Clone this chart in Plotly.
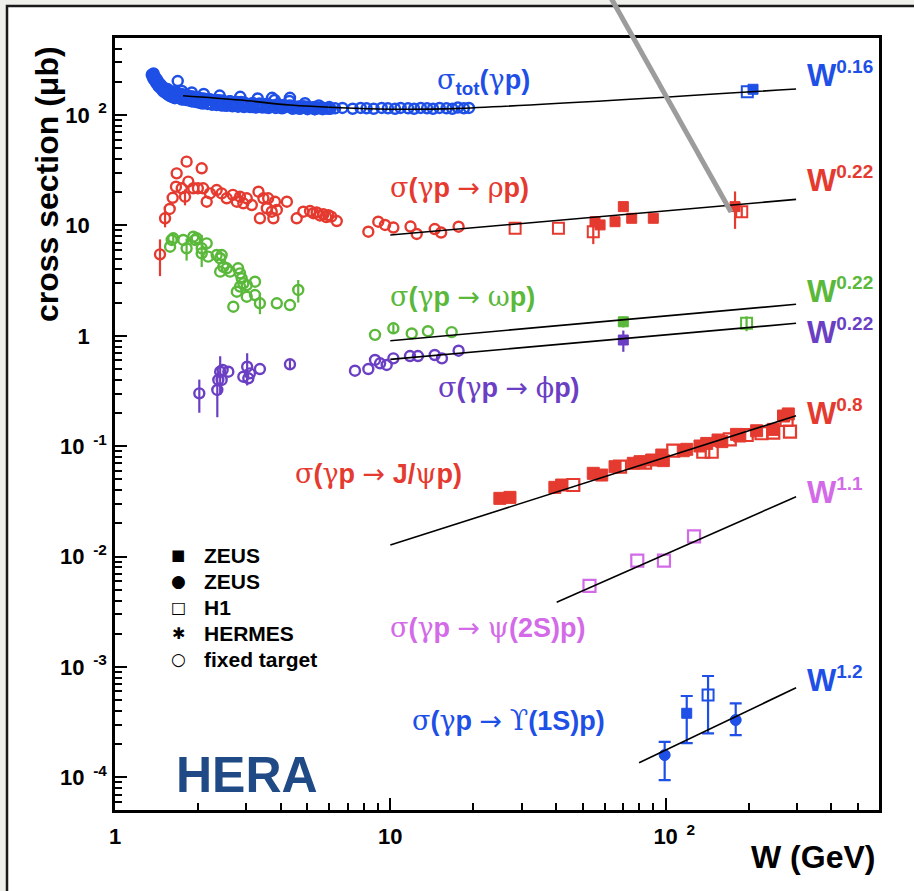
import math
import plotly.graph_objects as go

# ---------------- data ----------------
# total photoproduction cross section, fixed target (open circles)
tot_ft_W = [1.36, 1.37, 1.38, 1.38, 1.39, 1.40, 1.40, 1.41, 1.42, 1.43, 1.43, 1.44, 1.45, 1.46, 1.47,
            1.48, 1.49, 1.50, 1.51, 1.53, 1.54, 1.56, 1.57, 1.59, 1.60, 1.62, 1.63, 1.65, 1.67, 1.69,
            1.70, 1.71, 1.73, 1.75, 1.77, 1.79, 1.81, 1.84, 1.86, 1.89, 1.91, 1.94, 1.97, 2.00, 2.03,
            2.06, 2.09, 2.13, 2.17, 2.21, 2.25, 2.29, 2.34, 2.39, 2.44, 2.49, 2.55, 2.61, 2.67, 2.73,
            2.80, 2.87, 2.94, 3.01, 3.09, 3.17, 3.25, 3.34, 3.43, 3.52, 3.62, 3.72, 3.72, 3.83, 3.94,
            4.05, 4.17, 4.30, 4.32, 4.42, 4.56, 4.70, 4.85, 5.00, 5.16, 5.33, 5.50, 5.68, 5.87, 6.06,
            1.62, 1.75, 1.90, 2.05, 2.25, 2.50, 2.80, 3.15, 3.55, 4.00, 4.60, 5.30,
            1.75, 1.90, 2.10, 2.40, 2.85, 3.30, 3.80, 4.30, 4.90, 5.50, 6.00,
            1.52, 1.58, 1.64, 1.72, 1.80, 1.88, 1.96, 2.05, 2.15, 2.27, 2.40, 2.55, 2.70, 2.87, 3.05,
            3.25, 3.45, 3.70, 3.95, 4.20, 4.50, 4.80, 5.10, 5.45, 5.80,
            1.55, 1.62, 1.68, 1.76, 1.84, 1.92, 2.00, 2.10, 2.20, 2.33, 2.47, 2.62, 2.78, 2.95, 3.15,
            3.35, 3.60, 3.85, 4.10, 4.40, 4.70, 5.00, 5.30, 5.65, 5.95,
            1.55, 1.61, 1.68, 1.76, 1.84, 1.92, 2.00, 2.10, 2.20, 2.33, 2.47, 2.62, 2.78, 2.95, 3.15,
            3.35, 3.60, 3.85, 4.10, 4.40, 4.70, 5.00, 5.30, 5.65, 5.95,
            6.3, 6.7, 7.3, 7.8, 8.2, 8.7, 9.3, 9.8, 10.4, 10.9, 11.6, 12.2, 12.9, 13.6, 14.3, 15.1,
            16.0, 16.8, 17.6, 18.5, 19.3]
tot_ft_sig = [232, 222, 238, 212, 226, 205, 218, 196, 210, 188, 200, 182, 194, 176, 186,
              170, 180, 163, 174, 158, 168, 152, 163, 148, 160, 145, 157, 142, 155, 203,
              145, 156, 141, 154, 139, 152, 137, 150, 135, 147, 133, 145, 131, 143, 129,
              141, 127, 138, 126, 139, 124, 134, 123, 136, 122, 131, 121, 133, 120, 129,
              119, 131, 118, 126, 118, 128, 117, 124, 117, 126, 116, 143, 122, 116, 124,
              115, 120, 122, 143, 114, 119, 114, 120, 113, 117, 113, 116, 113, 115, 114,
              145, 138, 133, 128, 125, 122, 120, 118, 117, 116, 115, 113,
              165, 160, 155, 150, 146, 141, 137, 134, 128, 122, 118,
              168, 160, 153, 150, 146, 143, 140, 137, 135, 133, 131, 129, 128, 126, 125,
              123, 122, 121, 120, 119, 118, 117, 116, 115, 115,
              172, 163, 158, 153, 150, 147, 144, 141, 139, 137, 135, 133, 131, 130, 128,
              127, 125, 124, 123, 121, 120, 119, 118, 117, 116,
              155, 150, 145, 141, 138, 135, 132, 130, 128, 126, 125, 123, 122, 121, 120,
              119, 118, 117, 117, 116, 115, 115, 114, 114, 114,
              115, 116, 114, 116, 115, 114, 116, 115, 114, 116, 115, 114, 116, 115, 114, 116,
              115, 114, 117, 115, 116]
tot_zeus_W, tot_zeus_sig = [207.7], [171.0]
tot_h1_W, tot_h1_sig = [198.0], [162.6]
tot_fit_W = [1.766, 2.85, 4.32, 6.57, 9.97, 17.0, 297.7]
tot_fit_sig = [149.6, 136.7, 123.2, 116.4, 112.9, 114.3, 172.0]

# rho
rho_ft_W = [1.457, 1.52, 1.58, 1.62, 1.665, 1.675, 1.747, 1.82, 1.846, 1.796, 2.065, 1.925, 2.0, 2.09,
            2.153, 2.213, 2.34, 2.44, 2.545, 2.68, 2.77, 2.845, 2.925, 3.01, 3.14, 3.32, 3.46, 3.56,
            3.36, 3.6, 3.71, 3.81, 3.87, 3.76, 4.21, 4.57, 4.83, 5.11, 5.25, 5.40, 5.55, 5.71, 5.85,
            5.95, 6.1, 6.39, 8.32, 9.04, 9.57, 10.26, 11.84, 12.47, 14.5, 15.3, 17.7]
rho_ft_sig = [5.47, 11.6, 14.1, 17.8, 22.4, 29.6, 21.7, 37.8, 24.9, 18.2, 32.9, 21.7, 21.7, 21.7,
              16.4, 19.5, 20.9, 19.5, 17.6, 18.9, 16.4, 18.2, 15.85, 17.6, 15.3, 20.2, 17.6, 14.3,
              11.6, 17.6, 13.3, 16.4, 13.8, 11.6, 16.4, 11.6, 13.3, 13.5, 12.9, 13.1, 12.3, 12.6, 11.9,
              12.4, 12.0, 10.96, 8.77, 10.8, 10.1, 9.57, 9.77, 8.36, 9.27, 8.62, 9.73]
rho_ft_err = [2.0, 2.0, 0, 0, 0, 0, 0, 0, 0, 3.0, 0, 0, 0, 0,
              0, 0, 0, 0, 0, 0, 0, 2.0, 0, 0, 0, 0, 0, 0,
              0, 0, 0, 0, 0, 0, 0, 0, 0, 0, 0, 0, 0, 0, 0,
              0, 0, 0, 0, 0, 0, 0, 0, 0, 0, 0, 0]
rho_zeus_W = [55.4, 57.8, 65.5, 70.2, 75.3, 90.2, 178.7]
rho_zeus_sig = [10.8, 10.1, 10.8, 14.8, 11.6, 11.6, 14.8]
rho_zeus_err = [0, 0, 0, 1.0, 0, 0, 5.5]
rho_h1_W = [28.4, 40.8, 54.6, 189.0]
rho_h1_sig = [9.41, 9.41, 8.77, 13.3]
rho_h1_err = [0, 0, 2.0, 1.5]
rho_fit_W, rho_fit_sig = [10.0, 297.7], [8.18, 17.2]

# omega
om_ft_W = [1.585, 1.607, 1.628, 1.77, 1.82, 1.925, 1.953, 1.981, 2.065, 2.065, 2.153, 2.18, 2.34, 2.41,
           2.44, 2.475, 2.41, 2.545, 2.617, 2.8, 2.845, 2.885, 2.925, 3.01, 2.845, 3.225, 2.77, 3.01,
           3.225, 2.69, 3.36, 3.87, 4.32, 4.63, 8.8, 10.26, 11.96, 13.7, 16.7]
om_ft_sig = [6.41, 7.38, 7.64, 7.38, 6.2, 7.9, 7.38, 7.64, 6.2, 5.59, 6.88, 5.21, 5.39, 5.04,
             5.39, 4.22, 3.81, 4.09, 3.81, 4.09, 3.68, 3.32, 2.99, 2.88, 2.79, 3.09, 2.51, 2.26,
             2.34, 1.835, 1.97, 1.97, 1.90, 2.60, 1.02, 1.17, 1.05, 1.10, 1.08]
om_ft_err = [0, 0, 0.8, 0, 1.4, 0, 0, 0, 2.0, 0, 0, 0, 0, 0,
             0, 0, 0, 0, 0, 0, 0, 0, 0, 0, 0, 0, 0, 0,
             0, 0, 0.4, 0, 0, 0.6, 0, 0.1, 0, 0, 0]
om_zeus_W, om_zeus_sig, om_zeus_err = [70.2], [1.34], [0.15]
om_h1_W, om_h1_sig, om_h1_err = [196.8], [1.30], [0.2]
om_fit_W, om_fit_sig = [10.0, 297.7], [0.903, 1.93]

# phi
phi_ft_W = [2.024, 2.353, 2.373, 2.41, 2.46, 2.58, 2.44, 2.925, 3.02, 3.05, 3.09, 3.36, 4.32,
            7.44, 8.32, 8.8, 9.18, 9.70, 10.26, 11.79, 12.6, 14.5, 15.4, 17.7]
phi_ft_sig = [0.301, 0.323, 0.398, 0.473, 0.49, 0.473, 0.398, 0.426, 0.525, 0.412, 0.457, 0.5, 0.552,
              0.483, 0.5, 0.604, 0.564, 0.544, 0.625, 0.656, 0.656, 0.67, 0.625, 0.733]
phi_ft_err = [0.1, 0.14, 0, 0.18, 0, 0, 0, 0, 0.17, 0, 0, 0, 0.05,
              0, 0, 0, 0, 0, 0, 0, 0, 0, 0, 0]
phi_zeus_W, phi_zeus_sig, phi_zeus_err = [70.2], [0.916], [0.2]
phi_fit_W, phi_fit_sig = [10.0, 297.7], [0.612, 1.298]

# J/psi
jpsi_zeus_W = [25.0, 27.2, 39.6, 41.9, 54.6, 58.6, 65.5, 76.3, 80.7, 89.0, 96.8, 98.1, 115.9, 119.3,
               133.3, 141, 155, 160, 181, 186, 214, 246, 268, 279]
jpsi_zeus_sig = [0.0337, 0.0344, 0.0424, 0.0445, 0.0568, 0.0548, 0.0652, 0.070, 0.0724, 0.075, 0.0832,
                 0.074, 0.091, 0.0937, 0.1004, 0.106, 0.1138, 0.11, 0.128, 0.1237, 0.138, 0.142,
                 0.1877, 0.196]
jpsi_h1_W = [46.2, 68.3, 84.2, 106.6, 137, 147, 171, 197, 223, 246, 275, 283]
jpsi_h1_sig = [0.0445, 0.0652, 0.0709, 0.091, 0.0891, 0.0891, 0.1155, 0.1263, 0.131, 0.1325,
               0.1727, 0.1355]
jpsi_fit_W, jpsi_fit_sig = [10.0, 297.7], [0.01273, 0.189]

# psi(2S)
psi2_h1_W = [52.9, 78.9, 98.6, 126.8]
psi2_h1_sig = [0.00542, 0.00918, 0.00918, 0.01527]
psi2_fit_W, psi2_fit_sig = [40.2, 297.7], [0.003855, 0.0349]

# Upsilon(1S)
ups_zc_W, ups_zc_sig = [99.2, 179.7], [1.595e-4, 3.31e-4]
ups_zc_up, ups_zc_dn = [0.50e-4, 1.38e-4], [0.65e-4, 0.89e-4]
ups_zs_W, ups_zs_sig = [119.3], [3.81e-4]
ups_zs_up, ups_zs_dn = [1.65e-4], [1.77e-4]
ups_h1_W, ups_h1_sig = [142.6], [5.58e-4]
ups_h1_up, ups_h1_dn = [2.71e-4], [3.07e-4]
ups_fit_W, ups_fit_sig = [80.1, 297.7], [1.358e-4, 6.49e-4]

x_tickvals = [1, 10, 100]
y_tickvals = [1e-4, 1e-3, 1e-2, 1e-1, 1, 10, 100]

# ---------------- style ----------------
BLUE = "#1e4fe6"
RED = "#e53a2f"
GREEN = "#5ab83a"
PURPLE = "#6b3fc4"
MAGENTA = "#d36be8"
HERA = "#1f4a85"
FONT = "Liberation Sans"

L, R, T, B = 115, 35, 38, 81
WIDTH, HEIGHT = 914, 891
PW, PH = WIDTH - L - R, HEIGHT - T - B


def xp(px):
    return (px - L) / PW


def yp(py):
    return (HEIGHT - B - py) / PH


fig = go.Figure()


def pts(x, y, color, symbol, size, lw=2.0, err=None, up=None, dn=None, cap=0):
    tr = go.Scatter(x=x, y=y, mode="markers", showlegend=False, hoverinfo="skip",
                    marker=dict(symbol=symbol, size=size, color=color,
                                line=dict(color=color, width=lw)))
    if err is not None:
        tr.error_y = dict(type="data", array=err, visible=True, color=color, thickness=2.2, width=cap)
    if up is not None:
        tr.error_y = dict(type="data", symmetric=False, array=up, arrayminus=dn, visible=True,
                          color=color, thickness=2.2, width=cap)
    fig.add_trace(tr)


def fitline(x, y, shape="linear"):
    fig.add_trace(go.Scatter(x=x, y=y, mode="lines", showlegend=False, hoverinfo="skip",
                             line=dict(color="black", width=1.6, shape=shape, smoothing=1.0)))


# total
pts(tot_ft_W, tot_ft_sig, BLUE, "circle-open", 10, 2.5)
pts(tot_h1_W, tot_h1_sig, BLUE, "square-open", 11, 2)
pts(tot_zeus_W, tot_zeus_sig, BLUE, "square", 10, 1)
# rho
pts(rho_ft_W, rho_ft_sig, RED, "circle-open", 10, 2.4, err=rho_ft_err)
pts(rho_h1_W, rho_h1_sig, RED, "square-open", 11, 2, err=rho_h1_err)
pts(rho_zeus_W, rho_zeus_sig, RED, "square", 10, 1, err=rho_zeus_err)
# omega
pts(om_ft_W, om_ft_sig, GREEN, "circle-open", 10, 2.4, err=om_ft_err)
pts(om_h1_W, om_h1_sig, GREEN, "square-open", 11, 2, err=om_h1_err)
pts(om_zeus_W, om_zeus_sig, GREEN, "square", 10, 1, err=om_zeus_err)
# phi
pts(phi_ft_W, phi_ft_sig, PURPLE, "circle-open", 10, 2.4, err=phi_ft_err)
pts(phi_zeus_W, phi_zeus_sig, PURPLE, "square", 10, 1, err=phi_zeus_err)
# J/psi
pts(jpsi_h1_W, jpsi_h1_sig, RED, "square-open", 12, 2.2)
pts(jpsi_zeus_W, jpsi_zeus_sig, RED, "square", 12, 1)
# psi(2S)
pts(psi2_h1_W, psi2_h1_sig, MAGENTA, "square-open", 12, 2.2)
# Upsilon
pts(ups_zc_W, ups_zc_sig, BLUE, "circle", 11, 1, up=ups_zc_up, dn=ups_zc_dn, cap=6)
pts(ups_zs_W, ups_zs_sig, BLUE, "square", 10, 1, up=ups_zs_up, dn=ups_zs_dn, cap=6)
pts(ups_h1_W, ups_h1_sig, BLUE, "square-open", 11, 2, up=ups_h1_up, dn=ups_h1_dn, cap=6)

# power-law / Regge fits
fitline(tot_fit_W, tot_fit_sig, "spline")
fitline(rho_fit_W, rho_fit_sig)
fitline(om_fit_W, om_fit_sig)
fitline(phi_fit_W, phi_fit_sig)
fitline(jpsi_fit_W, jpsi_fit_sig)
fitline(psi2_fit_W, psi2_fit_sig)
fitline(ups_fit_W, ups_fit_sig)


# ---------------- text ----------------
def g(ch):
    return '<span style="font-family:DejaVu Serif;font-weight:normal">' + ch + '</span>'


ARROW = '<span style="font-family:DejaVu Sans;font-weight:normal">→</span>'
labels = [
    (g("σ") + "<sub>tot</sub>(" + g("γ") + "p)", 435, 82, BLUE),
    (g("σ") + "(" + g("γ") + "p " + ARROW + " " + g("ρ") + "p)", 388, 187, RED),
    (g("σ") + "(" + g("γ") + "p " + ARROW + " " + g("ω") + "p)", 388, 296, GREEN),
    (g("σ") + "(" + g("γ") + "p " + ARROW + " " + g("ϕ") + "p)", 436, 387, PURPLE),
    (g("σ") + "(" + g("γ") + "p " + ARROW + " J/" + g("ψ") + "p)", 293, 473, RED),
    (g("σ") + "(" + g("γ") + "p " + ARROW + " " + g("ψ") + "(2S)p)", 388, 627, MAGENTA),
    (g("σ") + "(" + g("γ") + "p " + ARROW + " " + g("ϒ") + "(1S)p)", 410, 720, BLUE),
]
for txt, px, py, col in labels:
    fig.add_annotation(text=txt, xref="paper", yref="paper", x=xp(px), y=yp(py),
                       xanchor="left", yanchor="middle", showarrow=False,
                       font=dict(family=FONT, size=27, color=col, weight="bold"))

powers = [("0.16", 75, BLUE), ("0.22", 179, RED), ("0.22", 290, GREEN), ("0.22", 331, PURPLE),
          ("0.8", 413, RED), ("1.1", 491, MAGENTA), ("1.2", 679, BLUE)]
for p, py, col in powers:
    fig.add_annotation(text='W<sup><span style="font-size:19px">' + p + '</span></sup>',
                       xref="paper", yref="paper", x=xp(805), y=yp(py),
                       xanchor="left", yanchor="middle", showarrow=False,
                       font=dict(family=FONT, size=31, color=col, weight="bold"))

fig.add_annotation(text="HERA", xref="paper", yref="paper", x=xp(174), y=yp(775),
                   xanchor="left", yanchor="middle", showarrow=False,
                   font=dict(family=FONT, size=50, color=HERA, weight="bold"))

# legend (symbol + experiment name)
leg_names = ["ZEUS", "ZEUS", "H1", "HERMES", "fixed target"]
leg_syms = [("■", 15), ("●", 17), ("□", 16), ("✱", 16), ("○", 17)]
leg_y = [555, 581, 607, 633, 659]
for name, (sym, fs), py in zip(leg_names, leg_syms, leg_y):
    fig.add_annotation(text=sym, xref="paper", yref="paper", x=xp(178), y=yp(py),
                       xanchor="center", yanchor="middle", showarrow=False,
                       font=dict(family="DejaVu Sans", size=fs, color="black"))
    fig.add_annotation(text=name, xref="paper", yref="paper", x=xp(202), y=yp(py),
                       xanchor="left", yanchor="middle", showarrow=False,
                       font=dict(family=FONT, size=21, color="black", weight="bold"))

# axis titles
fig.add_annotation(text="W (GeV)", xref="paper", yref="paper", x=xp(877), y=yp(857),
                   xanchor="right", yanchor="middle", showarrow=False,
                   font=dict(family=FONT, size=32, color="black", weight="bold"))
fig.add_annotation(text="cross section (μb)", xref="paper", yref="paper", x=xp(47), y=yp(184),
                   xanchor="center", yanchor="middle", textangle=-90, showarrow=False,
                   font=dict(family=FONT, size=32, color="black", weight="bold"))

# outer frame and the grey pointer line
fig.add_shape(type="rect", xref="paper", yref="paper", x0=xp(7), y0=yp(905), x1=xp(930), y1=yp(6),
              fillcolor="white", line=dict(color="#1a1a1a", width=2.5), layer="below")
fig.add_shape(type="line", xref="paper", yref="paper", x0=xp(611), y0=yp(-2), x1=xp(731), y1=yp(212),
              line=dict(color="#9c9c9c", width=5), layer="above")

SP = "\u00a0"
xt = ["1", "10", "<sup>" + SP * 4 + "</sup>10<sup>" + SP * 2 + "2</sup>"]
yt = []
for v in y_tickvals:
    if v == 1:
        yt.append("1<sup>" + SP * 4 + "</sup>")
    elif v == 10:
        yt.append("10<sup>" + SP * 4 + "</sup>")
    else:
        e = int(round(math.log10(v)))
        yt.append("10<sup>" + SP * 2 + str(e) + "</sup>")

minor_x = [m * 10 ** e for e in range(0, 3) for m in range(2, 10)]
minor_y = [m * 10.0 ** e for e in range(-5, 3) for m in range(2, 10)]

axis_common = dict(type="log", showline=True, linewidth=2.5, linecolor="black", mirror=True,
                   ticks="inside", ticklen=12, tickwidth=2, tickcolor="black",
                   showgrid=False, zeroline=False,
                   tickfont=dict(family=FONT, size=22, color="black", weight="bold"))

fig.update_xaxes(range=[0, 2.775], tickmode="array", tickvals=x_tickvals, ticktext=xt,
                 minor=dict(tickmode="array", tickvals=minor_x, ticks="inside", ticklen=7,
                            tickwidth=1.5, tickcolor="black", showgrid=False),
                 ticklabelstandoff=5, **axis_common)
fig.update_yaxes(range=[-4.2953, 2.6975], tickmode="array", tickvals=y_tickvals, ticktext=yt,
                 minor=dict(tickmode="array", tickvals=minor_y, ticks="inside", ticklen=7,
                            tickwidth=1.5, tickcolor="black", showgrid=False),
                 ticklabelstandoff=1, **axis_common)

fig.update_layout(width=WIDTH, height=HEIGHT, margin=dict(l=L, r=R, t=T, b=B),
                  paper_bgcolor="#efefeb", plot_bgcolor="white", showlegend=False)

fig.write_html("out.html")
